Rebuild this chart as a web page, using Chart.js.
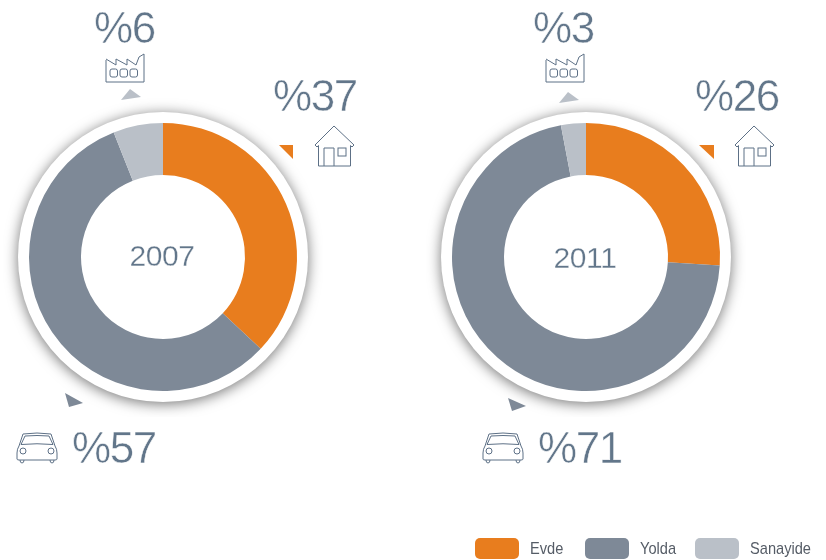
<!DOCTYPE html>
<html><head><meta charset="utf-8">
<script src="https://cdn.jsdelivr.net/npm/chart.js@4"></script>
<style>
html,body{margin:0;padding:0;background:#fff;width:826px;height:560px;overflow:hidden}
#stage{position:relative;width:826px;height:560px}
canvas.c{position:absolute}
.t{position:absolute;font-family:"Liberation Sans",sans-serif;color:#62768a;white-space:nowrap;line-height:1;-webkit-text-stroke:.5px #fff}
.big{font-size:44px;letter-spacing:-1.4px}
.mid{font-size:30px;letter-spacing:-.4px;transform:translateX(-50%);-webkit-text-stroke:.3px #fff}
.lg{font-size:17px;color:#555c66;transform:scaleX(.86);transform-origin:0 0;-webkit-text-stroke:0}
.sw{position:absolute;width:44px;height:21px;border-radius:5px}
svg.o{position:absolute;left:0;top:0}
svg.o .i{fill:none;stroke:#5d7086;stroke-width:1}
</style></head><body><div id="stage">
<canvas class="c" id="a" width="320" height="320" style="left:3px;top:97px"></canvas>
<canvas class="c" id="b" width="320" height="320" style="left:425.5px;top:97px"></canvas>
<svg class="o" width="826" height="560">
<defs>
<g id="house" class="i"><path d="M1 20 L20 1 L40 20 L38 22 L36.500 20.500 V41 H4.500 V20.500 L3 22 Z"/><path d="M10 41 V23 H20 V41"/><rect x="24" y="23" width="8" height="8"/></g>
<g id="factory" class="i"><path d="M1 7 V29 H39 V1 L34 4 L31 12 L22 6 V12 L11 6 V12 L1 6"/><rect x="5" y="16" width="7.500" height="8" rx="2"/><rect x="15" y="16" width="7.500" height="8" rx="2"/><rect x="25" y="16" width="7.500" height="8" rx="2"/></g>
<g id="car" class="i"><path d="M6 2 Q20 0 34 2 L38 14 Q40 17 40 21 V27 Q40 28 38 28 H2 Q0 28 0 27 V21 Q0 17 2 14 Z"/><path d="M8 4 Q20 3 32 4 L36 12.500 Q20 11 4 12.500 Z"/><circle cx="6" cy="19" r="3"/><circle cx="34" cy="19" r="3"/><path d="M3 28 Q3 31 5 31 Q7 31 7 28 M33 28 Q33 31 35 31 Q37 31 37 28"/></g>
</defs>
<polygon points="279,145 293,145 293,159" fill="#E87D1E"/>
<polygon points="65,393 83,403 69,407" fill="#7E8997"/>
<polygon points="121,100 141,97 130,89" fill="#BAC0C8"/>
<polygon points="699,145 714,145 714,159" fill="#E87D1E"/>
<polygon points="508,398 526,406 512,411" fill="#7E8997"/>
<polygon points="559,103 579,100 568,92" fill="#BAC0C8"/>
<use href="#house" x="314" y="125"/><use href="#house" x="734" y="125"/>
<use href="#factory" x="105" y="53"/><use href="#factory" x="545" y="53"/>
<use href="#car" x="17" y="432"/><use href="#car" x="483" y="432"/>
</svg>
<div id="labels"></div>
</div>
<script>
const categories=["Evde","Yolda","Sanayide"];
const colors=["#E87D1E","#7E8997","#BAC0C8"];
const years=["2007","2011"];
const values2007=[37,57,6];
const values2011=[26,71,3];
const labelPos2007=[[273,74],[72,426],[94,6]];
const labelPos2011=[[695,74],[538,426],[533,6]];
const midPos=[[162,241],[585,243]];
const legendSw=[475,585,695];
const legendTx=[530,640,750];

const ring={id:'ring',beforeDatasetsDraw(ch){
  const m=ch.getDatasetMeta(0).data[0],c=ch.ctx;
  c.save();c.shadowColor='rgba(0,0,0,.55)';c.shadowBlur=14;c.shadowOffsetY=2;c.fillStyle='#fff';
  c.beginPath();c.arc(m.x,m.y,m.outerRadius+11,0,Math.PI*2);c.fill();c.restore();
}};
function make(id,vals){
  new Chart(document.getElementById(id),{type:'doughnut',plugins:[ring],
    data:{labels:categories,datasets:[{data:vals,backgroundColor:colors,borderWidth:0}]},
    options:{responsive:false,animation:false,radius:134,cutout:'61.2%',
      layout:{padding:0},plugins:{legend:{display:false},tooltip:{enabled:false}}}});
}
make('a',values2007);make('b',values2011);

const L=document.getElementById('labels');
function add(cls,txt,x,y){const d=document.createElement('div');d.className='t '+cls;d.textContent=txt;d.style.left=x+'px';d.style.top=y+'px';L.appendChild(d);}
[[values2007,labelPos2007],[values2011,labelPos2011]].forEach(([v,p])=>v.forEach((n,i)=>add('big','%'+n,p[i][0],p[i][1])));
years.forEach((y,i)=>add('mid',y,midPos[i][0],midPos[i][1]));
categories.forEach((n,i)=>{
  const s=document.createElement('div');s.className='sw';s.style.left=legendSw[i]+'px';s.style.top='538px';s.style.background=colors[i];L.appendChild(s);
  add('lg',n,legendTx[i],540);
});
</script></body></html>
